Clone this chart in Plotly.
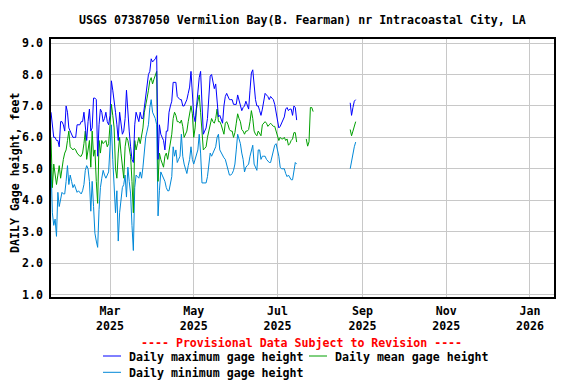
import pandas as pd
import plotly.graph_objects as go

# ---------------- data (daily values) ----------------
start_main = "2025-01-17"

daily_max = [
    6.8, 6.3, 6.0, 6.0, 5.9, 5.9,
    5.7, 6.5, 6.5, 6.4, 6.2, 7.0,
    6.8, 6.3, 6.2, 6.1, 6.0, 6.0,
    6.0, 6.4, 6.4, 6.4, 6.5, 6.5,
    6.8, 6.3, 5.9, 6.5, 6.9, 6.2,
    6.3, 7.25, 7.25, 7.2, 5.4, 6.4,
    6.9, 6.8, 6.5, 6.6, 6.8, 6.5,
    6.4, 6.7, 7.8, 7.5, 7.2, 6.8,
    6.4, 5.9, 6.8, 6.4, 6.1, 6.2,
    6.6, 7.5, 6.7, 6.2, 5.7, 5.3,
    5.2, 6.4, 6.8, 6.6, 6.5, 6.8,
    6.6, 6.6, 7.0, 7.4, 7.8, 8.0,
    8.1, 8.5, 8.4, 8.45, 8.5, 8.6,
    5.3, 6.4, 6.1, 6.0, 5.9, 5.6,
    6.2, 6.2, 6.8, 7.0, 7.15, 7.75,
    7.75, 7.75, 7.3, 7.25, 7.2, 7.2,
    7.0, 7.0, 7.1, 7.2, 7.4, 7.6, 8.1,
    7.4, 6.7, 6.5, 7.0, 7.6, 7.9,
    8.1, 7.0, 6.1, 6.2, 6.3, 6.6,
    7.5, 7.95, 8.0, 7.8, 7.55, 7.7,
    7.2, 6.65, 6.7, 6.6, 6.45, 7.0,
    7.3, 7.4, 7.3, 7.2, 7.2, 7.2, 7.05,
    7.05, 7.05, 7.35, 7.2, 7.05, 6.85,
    6.95, 7.0, 7.15, 7.0, 6.9, 7.5,
    8.05, 8.15, 7.7, 7.2, 7.0, 7.0,
    6.85, 6.7, 6.9, 7.15, 7.4, 7.35,
    7.3, 7.2, 7.3, 7.25, 7.2, 7.05,
    6.75, 6.5, 6.3, 6.35, 6.45, 6.55, 6.65,
    6.9, 6.95, 6.85, 6.9, 6.9, 6.7,
    7.0, 6.95, 6.55,
]

daily_mean = [
    6.0, 4.4, 5.15, 4.8, 4.5, 4.8,
    5.1, 4.7, 5.1, 5.3, 5.5, 5.6,
    5.9, 6.2, 5.7, 5.65, 5.6, 5.65,
    5.6, 5.5, 5.45, 5.4, 5.4, 5.5,
    5.8, 6.2, 5.3, 5.6, 5.9, 5.05,
    6.2, 5.4, 5.6, 4.6, 3.9, 5.9,
    5.5, 5.9, 5.8, 5.85, 5.9, 5.7,
    5.8, 6.4, 7.05, 6.7, 6.3, 5.0,
    4.7, 5.5, 6.0, 5.5, 5.05, 4.7,
    5.7, 6.0, 5.9, 5.6, 5.4, 4.6,
    3.6, 5.9, 5.6, 5.8, 6.0, 5.8,
    6.1, 6.3, 6.8, 7.1, 7.25, 7.5,
    7.8, 7.9, 7.7, 7.85, 8.0, 8.1,
    4.6, 5.5, 5.3, 5.2, 5.05, 5.4,
    5.5, 5.3, 5.6, 5.85, 6.1, 6.6,
    6.8, 6.7, 6.5, 6.5, 6.45, 6.55,
    6.35, 6.0, 6.1, 6.2, 6.5, 6.75, 7.0,
    6.75, 6.0, 6.3, 6.9, 7.15, 7.35,
    6.8, 6.2, 5.6, 5.65, 5.7, 6.0,
    6.2, 6.4, 6.6, 6.5, 6.45, 6.6,
    6.9, 6.5, 6.5, 6.4, 6.2, 6.1,
    6.45, 6.5, 6.4, 6.25, 6.2, 6.2, 6.0,
    6.15, 6.45, 6.75, 6.6, 6.5, 6.25,
    6.2, 6.1, 6.2, 6.2, 6.25, 6.5,
    6.85, 6.6, 6.2, 6.1, 6.05, 6.2,
    6.1, 6.05, 6.4, 6.45, 6.5, 6.45,
    6.35, 6.4, 6.45, 6.4, 6.35, 6.35,
    6.2, 6.0, 5.9, 6.0, 5.95, 5.95, 6.0,
    5.9, 5.95, 5.75, 5.8, 5.9, 5.95,
    6.15, 6.15, 5.85,
]

daily_min = [
    5.15, 3.6, 3.2, 3.4, 2.85, 4.25,
    3.8, 4.1, 4.25, 4.2, 4.2, 4.6,
    5.1, 4.5, 4.8, 4.6, 4.4, 4.5,
    4.4, 4.25, 4.3, 4.25, 4.2, 4.3,
    4.5, 4.95, 5.1, 5.0, 4.6, 3.65,
    4.6, 3.8, 2.95, 2.7, 2.5, 3.7,
    4.4, 4.7, 4.95, 4.8, 4.7, 4.8,
    4.9, 5.7, 6.4, 5.3, 4.2, 3.6,
    4.3, 2.7, 3.6, 4.1, 4.4, 4.5,
    4.8, 4.1, 5.05, 4.6, 4.2, 3.2,
    2.4, 4.4, 4.8, 4.75, 4.7, 4.9,
    4.7, 5.05, 5.7, 6.0, 6.2, 6.4,
    6.95, 7.2, 6.8, 6.7, 6.6, 6.4,
    3.5, 4.3, 4.9, 4.8, 4.7, 4.6,
    4.4, 4.3, 4.3, 4.5, 4.75, 5.7,
    5.4, 5.6, 5.2, 5.3, 5.4, 6.1,
    5.4, 5.15, 5.0, 4.85, 5.1, 5.3, 5.7,
    5.3, 5.15, 5.3, 5.45, 5.6, 6.1,
    5.5, 4.55, 4.55, 4.55, 4.55, 4.75,
    5.2, 5.5, 5.4, 5.5, 5.6, 5.7,
    6.0, 6.1, 5.6, 5.5, 5.4, 5.35,
    5.3, 5.1, 4.9, 4.8, 4.8, 4.85, 4.95,
    5.15, 5.6, 6.1, 5.95, 5.8, 5.5,
    5.3, 4.9, 5.05, 5.1, 5.15, 5.4,
    5.55, 5.75, 5.15, 5.05, 4.95, 5.6,
    5.6, 5.3, 5.4, 5.4, 5.4, 5.3,
    5.25, 5.2, 5.2, 5.4, 5.6, 5.75,
    5.8, 5.6, 5.4, 5.05, 5.0, 5.0, 5.0,
    4.85, 4.75, 4.8, 4.7, 4.65, 4.65,
    4.95, 5.2, 5.15,
]

# short July segment (mean only)
jul_dates = ["2025-07-22", "2025-07-23", "2025-07-24", "2025-07-25", "2025-07-26", "2025-07-27"]
jul_mean = [5.95, 5.72, 5.86, 6.95, 6.95, 6.82]

# short August segment
aug_dates = ["2025-08-23", "2025-08-24", "2025-08-25", "2025-08-26", "2025-08-27"]
aug_max = [7.1, 6.7, 6.95, 7.15, 7.2]
aug_mean = [6.25, 6.05, 6.2, 6.4, 6.5]
aug_min = [5.0, 5.25, 5.45, 5.7, 5.85]

tick_dates = ["2025-03-01", "2025-05-01", "2025-07-01", "2025-09-01", "2025-11-01", "2026-01-01"]
tick_months = ["Mar", "May", "Jul", "Sep", "Nov", "Jan"]
tick_years = ["2025", "2025", "2025", "2025", "2025", "2026"]
y_ticks = [1, 2, 3, 4, 5, 6, 7, 8, 9]

title = "USGS 07387050 Vermilion Bay(B. Fearman) nr Intracoastal City, LA"
y_title = "DAILY Gage height, feet"
names = ["Daily maximum gage height", "Daily mean gage height", "Daily minimum gage height"]

# ---------------- styling ----------------
C_MAX = "#0000FF"
C_MEAN = "#00A000"
C_MIN = "#0088D8"
FONT = "DejaVu Sans Mono"
FS = 11.6
LW = 1.0

# the page body has an 8px margin, so the figure is laid out 8px up/left
OFF = 8
W, H = 576 - OFF, 384 - OFF
L, R, T, B = 51 - OFF, 554 - OFF, 39 - OFF, 297 - OFF

main_dates = pd.date_range(start_main, periods=len(daily_max), freq="D")

fig = go.Figure()


def add_line(x, y, color):
    fig.add_trace(go.Scatter(x=list(x), y=y, mode="lines", showlegend=False,
                             line=dict(color=color, width=LW), hoverinfo="skip"))


add_line(main_dates, daily_min, C_MIN)
add_line(pd.to_datetime(aug_dates), aug_min, C_MIN)
add_line(main_dates[:len(daily_mean)], daily_mean, C_MEAN)
add_line(pd.to_datetime(jul_dates), jul_mean, C_MEAN)
add_line(pd.to_datetime(aug_dates), aug_mean, C_MEAN)
add_line(main_dates, daily_max, C_MAX)
add_line(pd.to_datetime(aug_dates), aug_max, C_MAX)

fig.update_layout(
    width=W, height=H,
    margin=dict(l=L, r=W - R, t=T, b=H - B, pad=0, autoexpand=False),
    paper_bgcolor="white", plot_bgcolor="white",
    font=dict(family=FONT, size=FS, color="black"),
    showlegend=False,
)

fig.update_xaxes(
    range=["2025-01-17", "2026-01-18 12:00"],
    tickmode="array", tickvals=tick_dates,
    ticktext=["<b>%s</b><br><b>%s</b>" % (m, y) for m, y in zip(tick_months, tick_years)],
    showgrid=True, gridcolor="#C8C8C8", gridwidth=1,
    showline=True, linecolor="black", linewidth=1.5, mirror=True,
    ticks="outside", ticklen=2, tickcolor="rgba(0,0,0,0)",
    tickfont=dict(family=FONT, size=FS, color="black"),
    zeroline=False, automargin=False,
)
fig.update_yaxes(
    range=[0.92, 9.13],
    tickmode="array", tickvals=y_ticks,
    ticktext=["<b>%.1f</b>" % v for v in y_ticks],
    showgrid=True, gridcolor="#C8C8C8", gridwidth=1,
    showline=True, linecolor="black", linewidth=1.5, mirror=True,
    ticks="outside", ticklen=4, tickcolor="rgba(0,0,0,0)",
    tickfont=dict(family=FONT, size=FS, color="black"),
    zeroline=False, automargin=False,
)


def px_x(X):
    # X given in window pixels
    return (X - OFF - L) / float(R - L)


def px_y(Y):
    return (B - (Y - OFF)) / float(B - T)


# title
fig.add_annotation(text="<b>" + title + "</b>", xref="paper", yref="paper",
                   x=px_x(302.5), y=px_y(19.5), xanchor="center", yanchor="middle",
                   showarrow=False, font=dict(family=FONT, size=FS, color="black"))

# y-axis title
fig.add_annotation(text="<b>" + y_title + "</b>", xref="paper", yref="paper",
                   x=px_x(15.0), y=px_y(173), xanchor="center", yanchor="middle",
                   textangle=-90, showarrow=False,
                   font=dict(family=FONT, size=FS, color="black"))

# provisional note
fig.add_annotation(text="<b>---- Provisional Data Subject to Revision ----</b>",
                   xref="paper", yref="paper", x=px_x(301), y=px_y(343.3),
                   xanchor="center", yanchor="middle", showarrow=False,
                   font=dict(family=FONT, size=FS, color="#FF0000"))

# legend (manual)
legend_items = [
    (names[0], C_MAX, 103, 356.0),
    (names[1], C_MEAN, 309, 356.0),
    (names[2], C_MIN, 103, 372.3),
]
for name, color, lx, ly in legend_items:
    fig.add_shape(type="line", xref="paper", yref="paper",
                  x0=px_x(lx), x1=px_x(lx + 18), y0=px_y(ly), y1=px_y(ly),
                  line=dict(color=color, width=LW))
    fig.add_annotation(text="<b>" + name + "</b>", xref="paper", yref="paper",
                       x=px_x(lx + 23.5), y=px_y(ly + 0.5), xanchor="left", yanchor="middle",
                       showarrow=False, font=dict(family=FONT, size=FS, color="black"))

fig.write_html("out.html")
